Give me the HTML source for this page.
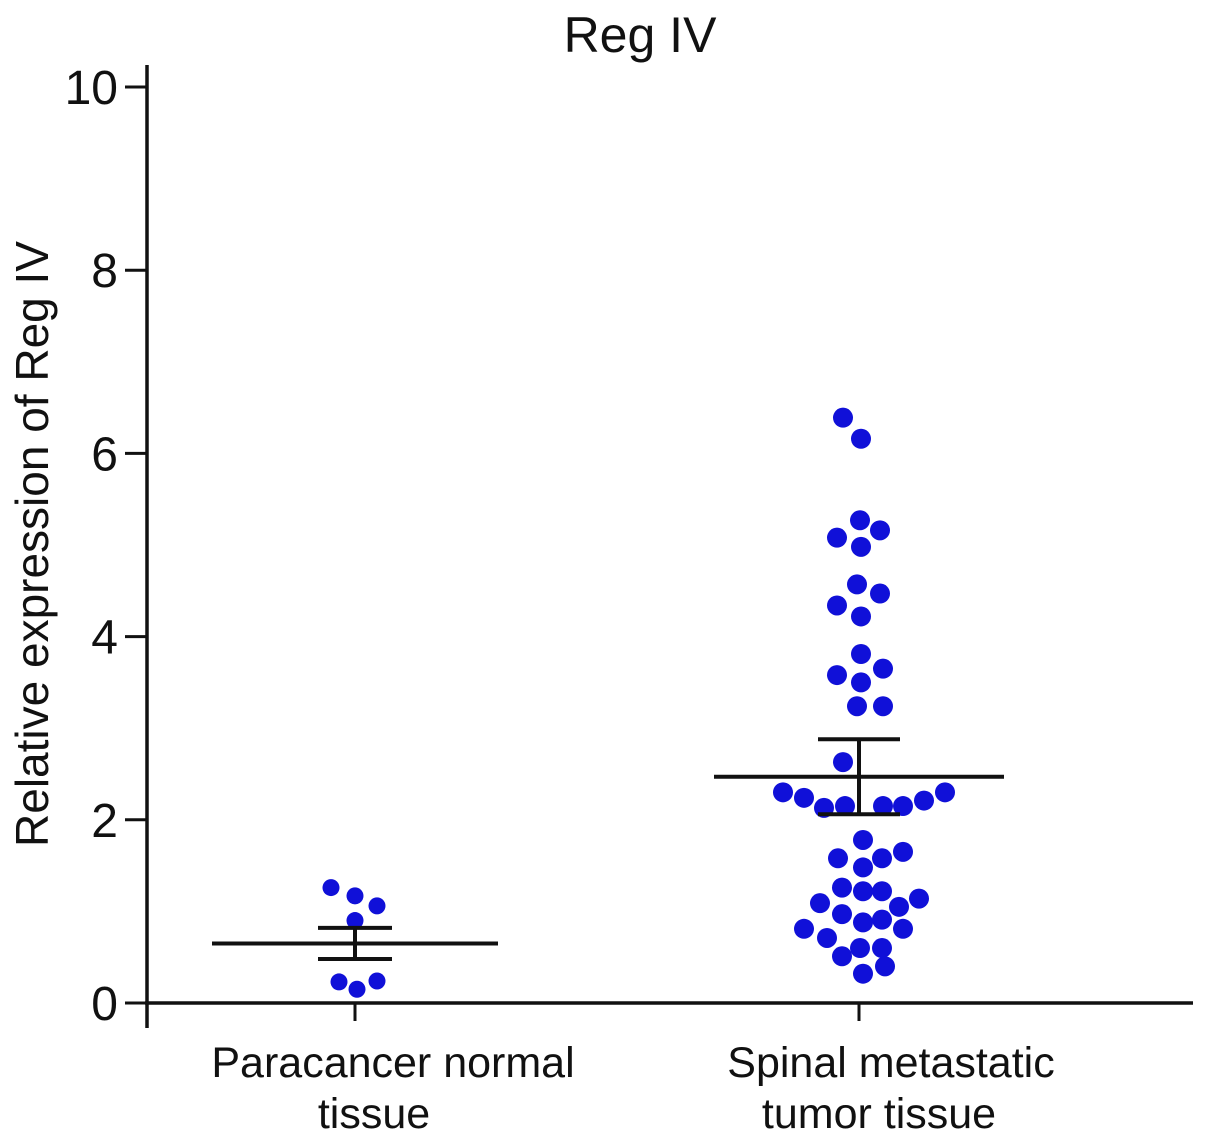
<!DOCTYPE html>
<html><head><meta charset="utf-8"><style>
body{margin:0;background:#fff;}
svg{display:block;font-family:"Liberation Sans",Arial,sans-serif;}
</style></head><body>
<svg id="chart" width="1205" height="1143" viewBox="0 0 1205 1143"></svg>
<script>
const categories = ["Paracancer normal tissue", "Spinal metastatic tumor tissue"];
const normalValues = [1.26,1.17,1.06,0.90,0.23,0.15,0.24];
const normalJitter = [-24,0,22,0,-16,2,22];
const tumorValues = [6.39,6.16,5.27,5.16,5.08,4.98,4.57,4.47,4.34,4.22,3.81,3.65,3.58,3.50,3.24,3.24,2.63,2.30,2.24,2.13,2.15,2.15,2.15,2.21,2.30,1.78,1.58,1.58,1.65,1.48,1.26,1.22,1.22,1.09,1.14,0.97,1.05,0.88,0.91,0.81,0.81,0.71,0.51,0.60,0.60,0.32,0.40];
const tumorJitter = [-16,2,1,21,-22,2,-2,21,-22,2,2,24,-22,2,-2,24,-16,-76,-55,-35,-14,24,44,65,86,4,-21,23,44,4,-17,4,23,-39,60,-17,40,4,23,-55,44,-32,-17,1,23,4,26];
const meanValues = [0.65, 2.47];
const semValues = [0.17, 0.41];
const yTicks = [0,2,4,6,8,10];

const svg = document.getElementById('chart');
const NS = 'http://www.w3.org/2000/svg';
const y = v => 1003 - v * 91.6;
const xCat = i => [355, 859][i];
function mk(tag, attrs, parent){const e=document.createElementNS(NS,tag);for(const k in attrs)e.setAttribute(k,attrs[k]);(parent||svg).appendChild(e);return e;}

let t = mk('text',{x:640,y:52,'text-anchor':'middle','font-size':50,fill:'#111'});
t.textContent='Reg IV';



t = mk('text',{x:0,y:0,'text-anchor':'middle','font-size':46,fill:'#111',transform:'translate(48,544) rotate(-90)'});
t.textContent='Relative expression of Reg IV';



let l = mk('line',{x1:147,y1:65,x2:147,y2:1028,stroke:'#111','stroke-width':3.5});


l = mk('line',{x1:145,y1:1003,x2:1193,y2:1003,stroke:'#111','stroke-width':3.5});



yTicks.forEach(v=>{
  const tk = mk('line',{x1:125,y1:y(v),x2:147,y2:y(v),stroke:'#111','stroke-width':3});
  
  
  const lb = mk('text',{x:118,y:y(v)+17,'text-anchor':'end','font-size':48,fill:'#111'});
  lb.textContent=String(v);
  
  
});

const catLines = [["Paracancer normal","tissue"],["Spinal metastatic","tumor tissue"]];
const catCenters = [[393,374],[891,879]];
categories.forEach((c,i)=>{
  const tk = mk('line',{x1:xCat(i),y1:1003,x2:xCat(i),y2:1021,stroke:'#111','stroke-width':3});
  
  
  catLines[i].forEach((s,j)=>{
    const lb = mk('text',{x:catCenters[i][j],y:1077+j*51,'text-anchor':'middle','font-size':43,fill:'#111'});
    lb.textContent=s;
    
    
  });
});

function dots(vals, jit, i, r){
  vals.forEach((v,k)=>{
    const c = mk('circle',{cx:xCat(i)+jit[k],cy:y(v),r:r,fill:'#1010d8'});
    
    
  });
}
dots(normalValues, normalJitter, 0, 8.5);
dots(tumorValues, tumorJitter, 1, 10);

const meanHalf=[143,145], capHalf=[37,41];
meanValues.forEach((m,i)=>{
  const cx=xCat(i), s=semValues[i];
  const a = mk('line',{x1:cx-meanHalf[i],y1:y(m),x2:cx+meanHalf[i],y2:y(m),stroke:'#111','stroke-width':4});
  
  
  const b = mk('line',{x1:cx,y1:y(m+s),x2:cx,y2:y(m-s),stroke:'#111','stroke-width':4});
  
  
  [m+s,m-s].forEach(v=>{
    const c = mk('line',{x1:cx-capHalf[i],y1:y(v),x2:cx+capHalf[i],y2:y(v),stroke:'#111','stroke-width':4});
    
    
  });
});
</script>
</body></html>
